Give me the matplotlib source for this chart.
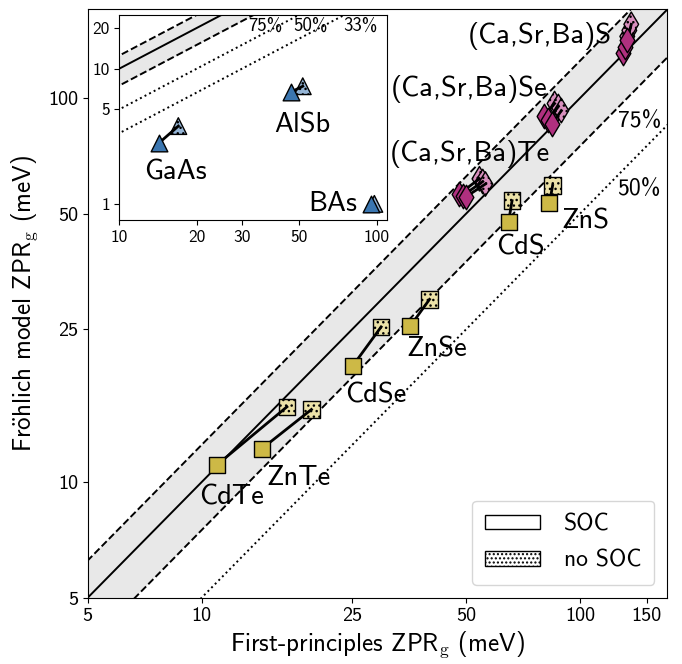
import numpy as np
import matplotlib
matplotlib.use('Agg')
import matplotlib.pyplot as plt
from matplotlib.patches import Patch
from matplotlib.ticker import FixedLocator, FixedFormatter, NullLocator

plt.rcParams['font.family'] = ['cmss10', 'DejaVu Sans']
plt.rcParams['mathtext.fontset'] = 'cm'
plt.rcParams['axes.unicode_minus'] = False
plt.rcParams['hatch.linewidth'] = 1.0

# II-VI squares: CdTe, ZnTe, CdSe, ZnSe, CdS, ZnS
sq_names = ['CdTe', 'ZnTe', 'CdSe', 'ZnSe', 'CdS', 'ZnS']
sq_soc_x = [10.99, 14.4, 25.1, 35.6, 64.7, 83.0]
sq_soc_y = [11.1, 12.2, 20.1, 25.5, 47.6, 53.2]
sq_nosoc_x = [16.8, 19.5, 29.8, 40.0, 66.1, 84.6]
sq_nosoc_y = [15.7, 15.45, 25.35, 29.9, 54.0, 59.2]

# alkaline-earth chalcogenides (Ca, Sr, Ba) for Te, Se, S
dm_soc_x = [48.0, 49.0, 49.8, 80.5, 82.5, 84.5, 130.0, 131.6, 133.2]
dm_soc_y = [56.3, 55.7, 55.2, 90.0, 87.8, 85.8, 130.7, 136.1, 141.2]
dm_nosoc_x = [54.2, 55.3, 56.2, 85.6, 87.6, 89.2, 133.2, 134.9, 136.5]
dm_nosoc_y = [61.6, 60.6, 59.7, 96.7, 95.0, 92.7, 144.6, 149.9, 155.5]

# III-V triangles (inset): GaAs, AlSb, BAs
tr_names = ['GaAs', 'AlSb', 'BAs']
tr_soc_x = [14.2, 46.5, 95.0]
tr_soc_y = [2.80, 6.72, 1.0]
tr_nosoc_x = [16.95, 51.6, 97.9]
tr_nosoc_y = [3.76, 7.41, 1.0]

main_ticks = [5, 10, 25, 50, 100, 150]
main_yticks = [5, 10, 25, 50, 100]
ins_xticks = [10, 20, 30, 50, 100]
ins_yticks = [1, 5, 10, 20]

YEL, YEL_L = '#cdb946', '#ece2a8'
MAG, MAG_L = '#b0307f', '#d88fbd'
BLU, BLU_L = '#3b76b0', '#95b5d6'
GRAY = '#e8e8e8'


def guides(ax, xlo, xhi, ratios_dot):
    xs = np.geomspace(xlo, xhi, 50)
    ax.fill_between(xs, 0.75 * xs, 1.25 * xs, color=GRAY, zorder=0, lw=0)
    ax.plot(xs, xs, 'k-', lw=1.4, zorder=1)
    ax.plot(xs, 1.25 * xs, 'k--', lw=1.4, zorder=1)
    ax.plot(xs, 0.75 * xs, 'k--', lw=1.4, zorder=1)
    for r in ratios_dot:
        ax.plot(xs, r * xs, 'k:', lw=1.4, zorder=1)


def pairs(ax, xs, ys, xn, yn, marker, ms, c, cl):
    for a, b, cc, d in zip(xs, ys, xn, yn):
        ax.plot([a, cc], [b, d], 'k-', lw=2, zorder=3)
    ax.scatter(xn, yn, s=ms ** 2, marker=marker, facecolor=cl, edgecolor='k',
               hatch='...', linewidth=1.0, zorder=2)
    ax.scatter(xs, ys, s=ms ** 2, marker=marker, facecolor=c, edgecolor='k',
               linewidth=1.0, zorder=4)


fig = plt.figure(figsize=(6.82, 6.64), dpi=100)
ax = fig.add_axes([0.1286, 0.0998, 0.8499, 0.886])
ax.set_xscale('log')
ax.set_yscale('log')
guides(ax, 4, 200, [0.5])
pairs(ax, sq_soc_x, sq_soc_y, sq_nosoc_x, sq_nosoc_y, 's', 12, YEL, YEL_L)
pairs(ax, dm_soc_x, dm_soc_y, dm_nosoc_x, dm_nosoc_y, 'd', 12.5, MAG, MAG_L)
ax.set_xlim(5, 170)
ax.set_ylim(5, 170)
ax.xaxis.set_major_locator(FixedLocator(main_ticks))
ax.xaxis.set_major_formatter(FixedFormatter([str(t) for t in main_ticks]))
ax.yaxis.set_major_locator(FixedLocator(main_yticks))
ax.yaxis.set_major_formatter(FixedFormatter([str(t) for t in main_yticks]))
ax.xaxis.set_minor_locator(NullLocator())
ax.yaxis.set_minor_locator(NullLocator())
ax.tick_params(labelsize=14.5)
ax.set_xlabel(r'First-principles ZPR$_\mathrm{g}$ (meV)', fontsize=18, labelpad=3)
ax.set_ylabel(r'Fr$\ddot{\mathsf{o}}$hlich model ZPR$_\mathrm{g}$ (meV)', fontsize=18, labelpad=6)

fs = 20.5
ax.text(78.0, 144.6, '(Ca,Sr,Ba)S', fontsize=fs, ha='center', va='center')
ax.text(51.0, 105.8, '(Ca,Sr,Ba)Se', fontsize=fs, ha='center', va='center')
ax.text(51.0, 71.6, '(Ca,Sr,Ba)Te', fontsize=fs, ha='center', va='center')
ax.text(143.3, 87.3, '75%', fontsize=17, ha='center', va='center')
ax.text(143.3, 58.0, '50%', fontsize=17, ha='center', va='center')
lab_pos = [(12.0, 9.16), (18.05, 10.27), (28.8, 16.9), (41.8, 22.2), (69.6, 40.9), (103.2, 47.9)]
for name, (px, py) in zip(sq_names, lab_pos):
    ax.text(px, py, name, fontsize=fs, ha='center', va='center')

ax.legend(handles=[Patch(facecolor='white', edgecolor='k', label='SOC'),
                   Patch(facecolor='white', edgecolor='k', hatch='....', label='no SOC')],
          loc='lower right', fontsize=17, handlelength=2.35, handleheight=0.55,
          borderaxespad=0.55, borderpad=0.55, labelspacing=0.6, handletextpad=1.0)

ins = fig.add_axes([0.175, 0.6687, 0.393, 0.309])
ins.set_xscale('log')
ins.set_yscale('log')
guides(ins, 8, 130, [0.5, 1 / 3])
pairs(ins, tr_soc_x, tr_soc_y, tr_nosoc_x, tr_nosoc_y, '^', 12, BLU, BLU_L)
ins.set_xlim(10, 110)
ins.set_ylim(0.76, 25)
ins.xaxis.set_major_locator(FixedLocator(ins_xticks))
ins.xaxis.set_major_formatter(FixedFormatter([str(t) for t in ins_xticks]))
ins.yaxis.set_major_locator(FixedLocator(ins_yticks))
ins.yaxis.set_major_formatter(FixedFormatter([str(t) for t in ins_yticks]))
ins.xaxis.set_minor_locator(NullLocator())
ins.yaxis.set_minor_locator(NullLocator())
ins.tick_params(labelsize=12.5)
ins.text(36.8, 20.8, '75%', fontsize=13.5, ha='center', va='center')
ins.text(55.1, 20.8, '50%', fontsize=13.5, ha='center', va='center')
ins.text(86.7, 20.8, '33%', fontsize=13.5, ha='center', va='center')
ins_lab = [(16.5, 1.72), (51.5, 3.82), (67.3, 1.0)]
for name, (px, py) in zip(tr_names, ins_lab):
    ins.text(px, py, name, fontsize=fs, ha='center', va='center')

fig.savefig('out.png', dpi=100)
